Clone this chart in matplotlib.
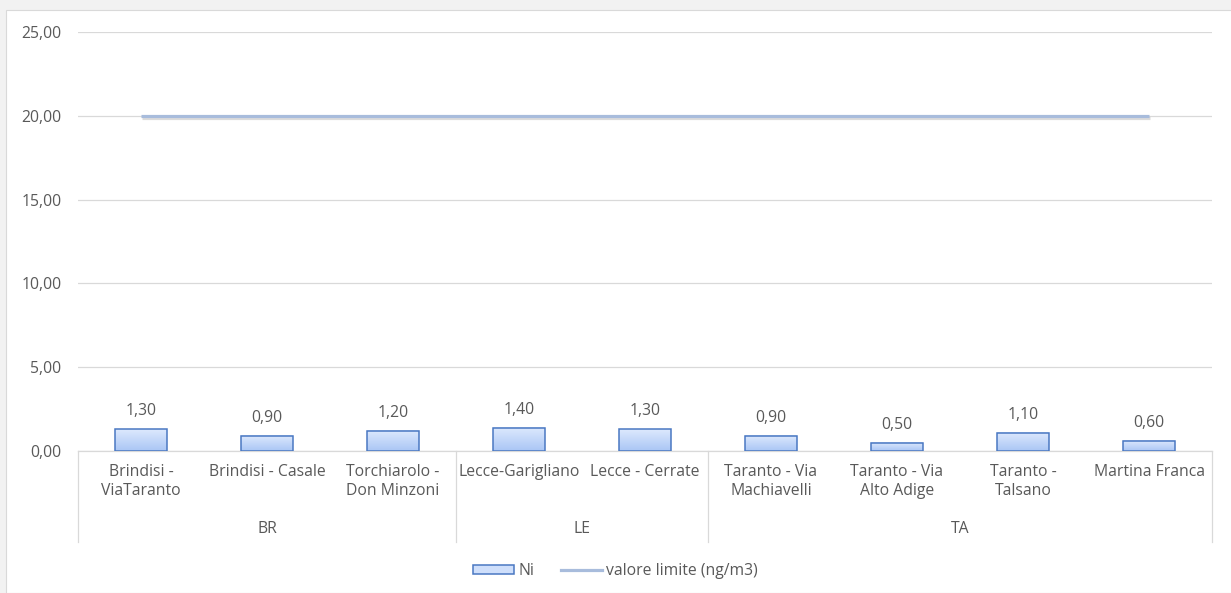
import numpy as np
import matplotlib.pyplot as plt
import matplotlib.transforms as mtransforms
import matplotlib.patheffects as pe
from matplotlib.colors import LinearSegmentedColormap
from matplotlib.patches import Rectangle
from matplotlib.lines import Line2D

plt.rcParams['font.family'] = ['Open Sans', 'DejaVu Sans']

# Dati
stazioni = ['Brindisi -\nViaTaranto', 'Brindisi - Casale', 'Torchiarolo -\nDon Minzoni',
            'Lecce-Garigliano', 'Lecce - Cerrate', 'Taranto - Via\nMachiavelli',
            'Taranto - Via\nAlto Adige', 'Taranto -\nTalsano', 'Martina Franca']
province = ['BR', 'LE', 'TA']
n_per_prov = [3, 2, 4]
ni = [1.30, 0.90, 1.20, 1.40, 1.30, 0.90, 0.50, 1.10, 0.60]
limite = [20.0] * 9

txt = '#595959'
grid_c = '#d9d9d9'
fs = 11.3

fig = plt.figure(figsize=(12.31, 5.93), dpi=100, facecolor='#f2f2f2')
# area bianca del grafico
fig.patches.append(Rectangle((6 / 1231, 0), 1, 1 - 10 / 593, transform=fig.transFigure,
                             facecolor='white', edgecolor='#d9d9d9', lw=0.8, zorder=-10))

ax = fig.add_axes([78 / 1231, 1 - 451 / 593, (1212 - 78) / 1231, (451 - 32) / 593])
ax.set_zorder(2)
ax.set_facecolor('white')

x = np.arange(len(stazioni))
w = 0.41

# barre con sfumatura
cmap = LinearSegmentedColormap.from_list('ni', ['#aac6f5', '#dde9fd'])
grad = np.linspace(0, 1, 64).reshape(-1, 1)
for xi, v in zip(x, ni):
    ax.imshow(grad, extent=[xi - w / 2, xi + w / 2, 0, v], origin='lower',
              aspect='auto', cmap=cmap, zorder=2)
    ax.add_patch(Rectangle((xi - w / 2, 0), w, v, facecolor='none',
                           edgecolor='#4a78c2', lw=1.1, zorder=3))
    ax.annotate(f'{v:.2f}'.replace('.', ','), (xi, v), xytext=(0, 7),
                textcoords='offset points', ha='center', va='bottom',
                fontsize=fs, color=txt)

# linea valore limite
ax.plot(x, limite, color='#a8bcdc', lw=2.3, zorder=4, solid_capstyle='butt',
        path_effects=[pe.SimpleLineShadow(offset=(0.8, -1.8), shadow_color='#999999', alpha=0.35),
                      pe.Normal()])

ax.set_xlim(-0.5, len(stazioni) - 0.5)
ax.set_ylim(0, 25)
ax.set_yticks(np.arange(0, 26, 5))
ax.set_yticklabels([f'{v:.2f}'.replace('.', ',') for v in np.arange(0, 26, 5)])
ax.tick_params(axis='y', length=0, pad=12, labelsize=fs, labelcolor=txt)
ax.set_xticks([])
ax.grid(axis='y', color=grid_c, lw=0.9, zorder=0)
for s in ['top', 'right', 'left']:
    ax.spines[s].set_visible(False)
ax.spines['bottom'].set_color(grid_c)
ax.spines['bottom'].set_linewidth(0.9)

# etichette categorie a due livelli
tr = mtransforms.blended_transform_factory(ax.transData, ax.transAxes)
for xi, lab in zip(x, stazioni):
    ax.text(xi, -0.03, lab, transform=tr, ha='center', va='top',
            fontsize=fs, color=txt, linespacing=1.25)
start = 0
bounds = [-0.5]
for p, n in zip(province, n_per_prov):
    ax.text(start + (n - 1) / 2, -0.186, p, transform=tr, ha='center', va='center',
            fontsize=fs, color=txt)
    start += n
    bounds.append(start - 0.5)
for b in bounds:
    ax.plot([b, b], [0, -0.217], transform=tr, color=grid_c, lw=0.9, clip_on=False)

# legenda
handles = [Rectangle((0, 0), 1, 1, facecolor='#cfdffb', edgecolor='#4a78c2', lw=1.1),
           Line2D([0], [0], color='#a8bcdc', lw=2.3)]
fig.legend(handles, ['Ni', 'valore limite (ng/m3)'], loc='center',
           bbox_to_anchor=(0.5, 1 - 571 / 593), ncol=2, frameon=False,
           fontsize=fs, labelcolor=txt, handlelength=2.6, handleheight=0.55,
           handletextpad=0.3, columnspacing=1.7)

fig.savefig('out.png', dpi=100, facecolor=fig.get_facecolor())
